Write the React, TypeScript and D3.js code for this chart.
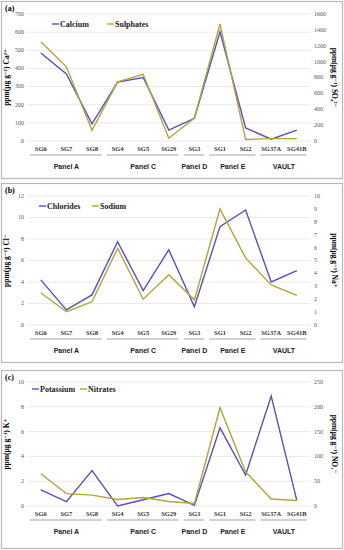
import * as d3 from 'd3'

const categories = ['SG6', 'SG7', 'SG8', 'SG4', 'SG5', 'SG29', 'SG3', 'SG1', 'SG2', 'SG37A', 'SG41B']
const groups = [
  { name: 'Panel A', from: 0, to: 2 },
  { name: 'Panel C', from: 3, to: 5 },
  { name: 'Panel D', from: 6, to: 6 },
  { name: 'Panel E', from: 7, to: 8 },
  { name: 'VAULT', from: 9, to: 10 },
]

const calcium = [485, 370, 95, 325, 350, 60, 125, 602, 72, 10, 60]
const sulphates = [1250, 935, 135, 745, 840, 35, 290, 1475, 20, 30, 30]
const chlorides = [4.2, 1.4, 2.8, 7.75, 3.2, 7.0, 1.7, 9.15, 10.7, 4.0, 5.05]
const sodium = [2.5, 1.03, 1.8, 5.95, 2.0, 3.9, 1.95, 9.0, 5.2, 3.1, 2.3]
const potassium = [1.3, 0.35, 2.85, 0.0, 0.5, 1.0, 0.05, 6.3, 2.5, 8.87, 0.45]
const nitrates = [65, 25, 22, 13, 17, 9, 5, 198, 69, 14, 11]

const BLUE = '#5452bd'
const OLIVE = '#b3a43a'
const SERIF = '"Liberation Serif", "DejaVu Serif", serif'
const SANS = '"Liberation Sans", Arial, sans-serif'

interface PanelCfg {
  tag: string
  frameTop: number
  frameBottom: number
  plotTop: number
  plotBottom: number
  leftMax: number
  leftStep: number
  rightMax: number
  rightStep: number
  leftTitle: string
  rightTitle: string
  s1: { name: string; values: number[] }
  s2: { name: string; values: number[] }
  legendX: [number, number]
  legendY: number
}

const panels: PanelCfg[] = [
  {
    tag: '(a)', frameTop: 1, frameBottom: 178, plotTop: 14, plotBottom: 141,
    leftMax: 700, leftStep: 100, rightMax: 1600, rightStep: 200,
    leftTitle: 'ppm(μg g⁻¹) Ca²⁺', rightTitle: 'ppm(μg g⁻¹) SO₄²⁻',
    s1: { name: 'Calcium', values: calcium }, s2: { name: 'Sulphates', values: sulphates },
    legendX: [52, 107], legendY: 24,
  },
  {
    tag: '(b)', frameTop: 183, frameBottom: 362, plotTop: 196, plotBottom: 325,
    leftMax: 12, leftStep: 2, rightMax: 10, rightStep: 1,
    leftTitle: 'ppm(μg g⁻¹) Cl⁻', rightTitle: 'ppm(μg g⁻¹) Na⁺',
    s1: { name: 'Chlorides', values: chlorides }, s2: { name: 'Sodium', values: sodium },
    legendX: [39, 92], legendY: 206,
  },
  {
    tag: '(c)', frameTop: 370, frameBottom: 548, plotTop: 382, plotBottom: 506,
    leftMax: 10, leftStep: 2, rightMax: 250, rightStep: 50,
    leftTitle: 'ppm(μg g⁻¹) K⁺', rightTitle: 'ppm(μg g⁻¹) NO₃⁻',
    s1: { name: 'Potassium', values: potassium }, s2: { name: 'Nitrates', values: nitrates },
    legendX: [32, 80], legendY: 389,
  },
]

const x = d3.scaleBand<string>().domain(categories).range([28, 309.6])

function Panel({ p }: { p: PanelCfg }) {
  const yL = d3.scaleLinear().domain([0, p.leftMax]).range([p.plotBottom, p.plotTop])
  const yR = d3.scaleLinear().domain([0, p.rightMax]).range([p.plotBottom, p.plotTop])
  const leftTicks = d3.range(0, p.leftMax + 1e-9, p.leftStep)
  const rightTicks = d3.range(0, p.rightMax + 1e-9, p.rightStep)
  const cx = (i: number) => (x(categories[i]) as number) + x.bandwidth() / 2
  const line1 = d3.line<number>().x((_, i) => cx(i)).y(d => yL(d))
  const line2 = d3.line<number>().x((_, i) => cx(i)).y(d => yR(d))
  const midY = (p.plotTop + p.plotBottom) / 2
  const bw = x.bandwidth()

  return (
    <g>
      <rect x={1.5} y={p.frameTop + 0.5} width={341} height={p.frameBottom - p.frameTop} fill="#fff" stroke="#b8b8b8" strokeWidth={1.2} />
      <text x={5} y={p.frameTop + 10} fontFamily={SERIF} fontWeight="bold" fontSize={8}>{p.tag}</text>
      {leftTicks.map(t => (
        <g key={'l' + t}>
          <line x1={28} x2={310} y1={yL(t)} y2={yL(t)} stroke="#e3e3e3" strokeWidth={0.8} />
          <text x={24} y={yL(t)} dy="0.32em" textAnchor="end" fontFamily={SERIF} fontSize={6} fill="#555">{t}</text>
        </g>
      ))}
      {rightTicks.map(t => (
        <text key={'r' + t} x={314} y={yR(t)} dy="0.32em" fontFamily={SERIF} fontSize={6} fill="#555">{t}</text>
      ))}
      <text transform={`translate(9,${midY}) rotate(-90)`} textAnchor="middle" fontFamily={SERIF} fontWeight="bold" fontSize={7.5}>{p.leftTitle}</text>
      <text transform={`translate(332,${midY}) rotate(90)`} textAnchor="middle" fontFamily={SERIF} fontWeight="bold" fontSize={7.5}>{p.rightTitle}</text>
      {categories.map((c, i) => (
        <text key={c} x={cx(i)} y={p.plotBottom + 8} dy="0.32em" textAnchor="middle" fontFamily={SERIF} fontWeight="bold" fontSize={6.5} fill="#333">{c}</text>
      ))}
      {groups.map(g => {
        const x0 = x(categories[g.from]) as number
        const x1 = (x(categories[g.to]) as number) + bw
        return (
          <g key={g.name}>
            <line x1={x0 + 2} x2={x1 - 3} y1={p.plotBottom + 14} y2={p.plotBottom + 14} stroke="#999" strokeWidth={0.9} />
            <text x={(x0 + x1) / 2} y={p.plotBottom + 26} dy="0.32em" textAnchor="middle" fontFamily={SANS} fontWeight="bold" fontSize={7} fill="#222">{g.name}</text>
          </g>
        )
      })}
      <path d={line1(p.s1.values) ?? ''} fill="none" stroke={BLUE} strokeWidth={1.4} />
      <path d={line2(p.s2.values) ?? ''} fill="none" stroke={OLIVE} strokeWidth={1.4} />
      {[{ s: p.s1, c: BLUE, lx: p.legendX[0] }, { s: p.s2, c: OLIVE, lx: p.legendX[1] }].map(({ s, c, lx }) => (
        <g key={s.name}>
          <line x1={lx} x2={lx + 7} y1={p.legendY} y2={p.legendY} stroke={c} strokeWidth={1.4} />
          <text x={lx + 8} y={p.legendY} dy="0.32em" fontFamily={SERIF} fontWeight="bold" fontSize={8} fill="#222">{s.name}</text>
        </g>
      ))}
    </g>
  )
}

export default function App() {
  return (
    <svg width={344} height={550} style={{ position: 'absolute', left: 0, top: 0, background: '#fff' }}>
      {panels.map(p => <Panel key={p.tag} p={p} />)}
    </svg>
  )
}
